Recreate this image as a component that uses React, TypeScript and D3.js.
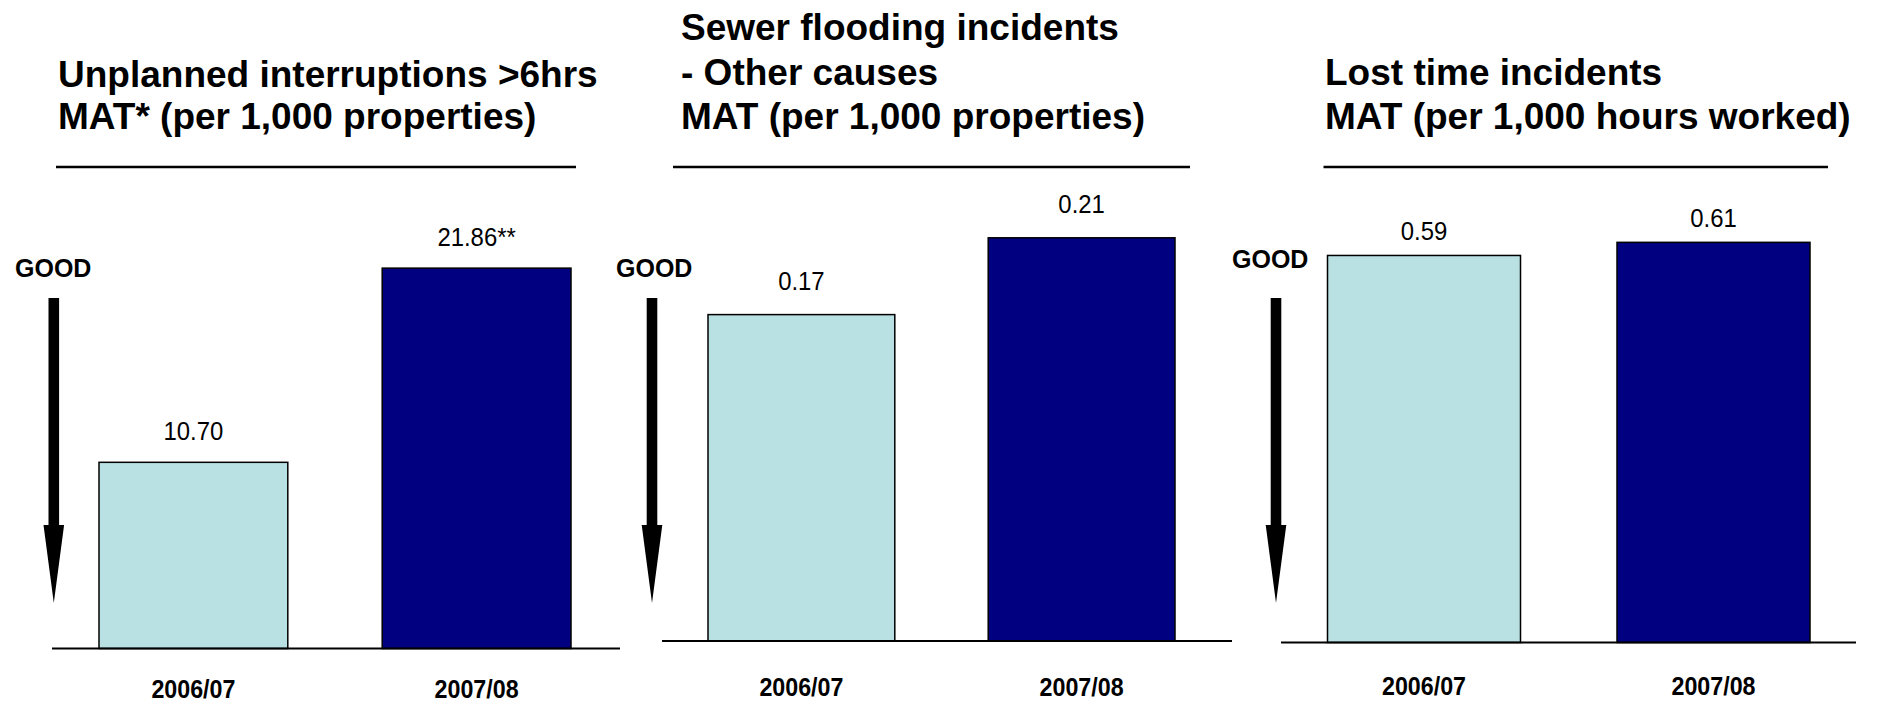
import React from "react";
import * as d3 from "d3";

const categories = ["2006/07", "2007/08"];
const interruptionValues = [10.7, 21.86];
const interruptionLabels = ["10.70", "21.86**"];
const sewerValues = [0.17, 0.21];
const sewerLabels = ["0.17", "0.21"];
const lostTimeValues = [0.59, 0.61];
const lostTimeLabels = ["0.59", "0.61"];

const interruptionTitle = ["Unplanned interruptions >6hrs", "MAT* (per 1,000 properties)"];
const sewerTitle = ["Sewer flooding incidents", "- Other causes", "MAT (per 1,000 properties)"];
const lostTimeTitle = ["Lost time incidents", "MAT (per 1,000 hours worked)"];
const goodLabel = "GOOD";

const barColors = ["#B9E0E3", "#000080"];
const FONT = "'Liberation Sans', Arial, Helvetica, sans-serif";

type Layout = {
  titleX: number;
  titleBaselines: number[];
  ruleX: [number, number];
  ruleY: number;
  goodX: number;
  goodY: number;
  arrowX: number;
  barRange: [number, number];
  base: number;
  yMax: number;
  pxPerUnit: number;
  axisX: [number, number];
  labelGap: number;
  catY: number;
};

const panels: { title: string[]; values: number[]; labels: string[]; layout: Layout }[] = [
  {
    title: interruptionTitle,
    values: interruptionValues,
    labels: interruptionLabels,
    layout: {
      titleX: 58,
      titleBaselines: [87, 129],
      ruleX: [56, 576],
      ruleY: 167,
      goodX: 15,
      goodY: 277,
      arrowX: 53.8,
      barRange: [99, 571],
      base: 648.5,
      yMax: 25,
      pxPerUnit: 17.4,
      axisX: [52, 620],
      labelGap: 22.5,
      catY: 698,
    },
  },
  {
    title: sewerTitle,
    values: sewerValues,
    labels: sewerLabels,
    layout: {
      titleX: 681,
      titleBaselines: [40, 85, 129],
      ruleX: [673, 1190],
      ruleY: 167,
      goodX: 616,
      goodY: 277,
      arrowX: 652,
      barRange: [708, 1175],
      base: 641,
      yMax: 0.25,
      pxPerUnit: 1920,
      axisX: [662, 1232],
      labelGap: 24.5,
      catY: 696,
    },
  },
  {
    title: lostTimeTitle,
    values: lostTimeValues,
    labels: lostTimeLabels,
    layout: {
      titleX: 1325,
      titleBaselines: [85, 129],
      ruleX: [1323.5, 1828],
      ruleY: 167,
      goodX: 1232,
      goodY: 268,
      arrowX: 1276,
      barRange: [1327.5, 1810],
      base: 642.5,
      yMax: 0.7,
      pxPerUnit: 656,
      axisX: [1281, 1856],
      labelGap: 15.5,
      catY: 695,
    },
  },
];

function Arrow({ cx }: { cx: number }) {
  const top = 298;
  const headStart = 525;
  const tip = 603;
  const sw = 5.3;
  const hw = 10.3;
  const p = d3.path();
  p.moveTo(cx - sw, top);
  p.lineTo(cx + sw, top);
  p.lineTo(cx + sw, headStart);
  p.lineTo(cx + hw, headStart);
  p.lineTo(cx, tip);
  p.lineTo(cx - hw, headStart);
  p.lineTo(cx - sw, headStart);
  p.closePath();
  return <path d={p.toString()} fill="#000" />;
}

function NarrowText({
  x,
  y,
  size,
  bold,
  sx,
  children,
}: {
  x: number;
  y: number;
  size: number;
  bold?: boolean;
  sx: number;
  children: React.ReactNode;
}) {
  return (
    <text
      transform={`translate(${x},${y}) scale(${sx},1)`}
      textAnchor="middle"
      fontFamily={FONT}
      fontWeight={bold ? "bold" : "normal"}
      fontSize={size}
      fill="#000"
    >
      {children}
    </text>
  );
}

function Panel({ title, values, labels, layout }: (typeof panels)[number]) {
  const x = d3.scaleBand<string>().domain(categories).range(layout.barRange).paddingInner(1 / 3).paddingOuter(0);
  const y = d3
    .scaleLinear()
    .domain([0, layout.yMax])
    .range([layout.base, layout.base - layout.yMax * layout.pxPerUnit]);
  return (
    <g>
      {title.map((t, i) => (
        <text
          key={i}
          x={layout.titleX}
          y={layout.titleBaselines[i]}
          fontFamily={FONT}
          fontWeight="bold"
          fontSize={37}
          fill="#000"
        >
          {t}
        </text>
      ))}
      <line
        x1={layout.ruleX[0]}
        x2={layout.ruleX[1]}
        y1={layout.ruleY}
        y2={layout.ruleY}
        stroke="#000"
        strokeWidth={2.5}
      />
      <text x={layout.goodX} y={layout.goodY} fontFamily={FONT} fontWeight="bold" fontSize={25} fill="#000">
        {goodLabel}
      </text>
      <Arrow cx={layout.arrowX} />
      {categories.map((c, i) => (
        <rect
          key={c}
          x={x(c)}
          y={y(values[i])}
          width={x.bandwidth()}
          height={y(0) - y(values[i])}
          fill={barColors[i]}
          stroke="#000"
          strokeWidth={1.5}
        />
      ))}
      {categories.map((c, i) => (
        <NarrowText
          key={c + "v"}
          x={(x(c) as number) + x.bandwidth() / 2}
          y={y(values[i]) - layout.labelGap}
          size={26}
          sx={0.92}
        >
          {labels[i]}
        </NarrowText>
      ))}
      <line
        x1={layout.axisX[0]}
        x2={layout.axisX[1]}
        y1={y(0)}
        y2={y(0)}
        stroke="#000"
        strokeWidth={2}
      />
      {categories.map((c) => (
        <NarrowText
          key={c + "c"}
          x={(x(c) as number) + x.bandwidth() / 2}
          y={layout.catY}
          size={25}
          bold
          sx={0.93}
        >
          {c}
        </NarrowText>
      ))}
    </g>
  );
}

export default function App() {
  return (
    <svg
      width={1877}
      height={704}
      viewBox="0 0 1877 704"
      style={{ position: "absolute", left: 0, top: 0, display: "block", background: "#fff" }}
    >
      <rect x={0} y={0} width={1877} height={704} fill="#fff" />
      {panels.map((p, i) => (
        <Panel key={i} {...p} />
      ))}
    </svg>
  );
}
